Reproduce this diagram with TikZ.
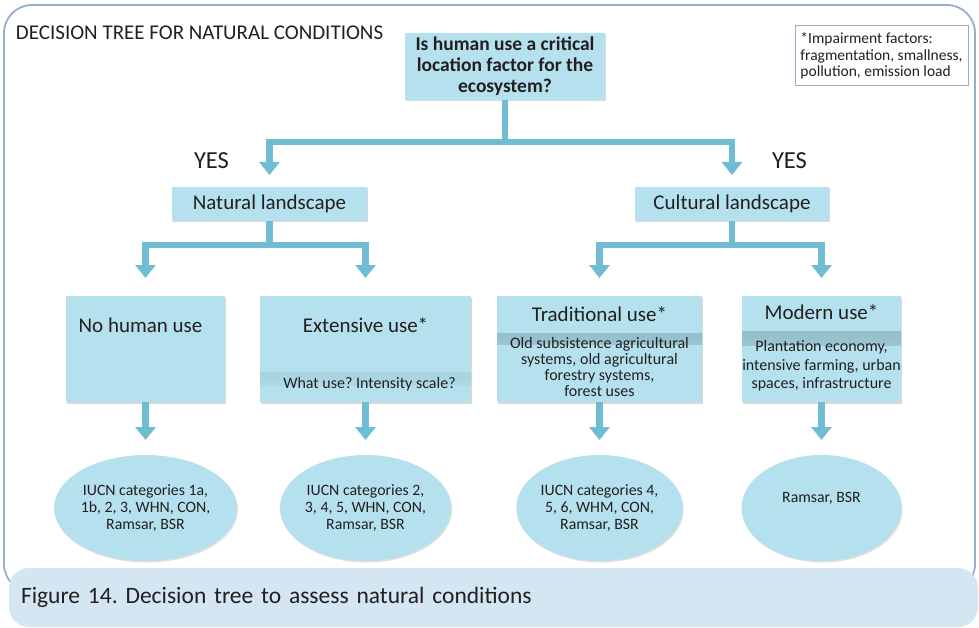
\documentclass[tikz,border=0pt]{standalone}
\usepackage{fontspec}
\setmainfont{Carlito}
\frenchspacing
\usetikzlibrary{positioning, shapes.geometric, arrows.meta, shadows}

\definecolor{boxfill}{RGB}{181,225,238}
\definecolor{pipefill}{RGB}{112,188,210}
\definecolor{bandfill}{RGB}{132,172,184}
\definecolor{framecol}{RGB}{148,174,204}
\definecolor{capfill}{RGB}{211,230,241}
\definecolor{txtcol}{RGB}{35,31,32}

\tikzset{
    band/.style 2 args={path picture={
        \shade[top color=bandfill, bottom color=boxfill]
            ([yshift=-#1]path picture bounding box.north west) rectangle
            ([yshift=-#1-#2]path picture bounding box.north east);}},
}

\begin{document}
\begin{tikzpicture}[
    x=1pt, y=-1pt,
    every node/.style = {text=txtcol, inner sep=0pt, outer sep=0pt},
    box/.style = {rectangle, fill=boxfill,
        drop shadow={opacity=.3, shadow xshift=1pt, shadow yshift=-1.5pt}},
    oval/.style = {ellipse, fill=boxfill, align=center,
        minimum width=160pt, minimum height=106pt,
        font=\fontsize{15.8}{17}\selectfont,
        drop shadow={opacity=.25, shadow xshift=1pt, shadow yshift=-1.5pt}},
    ttl/.style = {font=\fontsize{21}{24}\selectfont},
    sub/.style = {align=center, font=\fontsize{16}{16}\selectfont},
    pipe/.style = {draw=pipefill, line width=6.5pt,
        -{Triangle[width=20pt, length=13pt]}}
]
    \useasboundingbox (0,0) rectangle (979,628);

    % frame and caption
    \draw[framecol, line width=1.8pt, rounded corners=28pt] (4,5) rectangle (975,592);
    \node[fill=capfill, rounded corners=20pt, anchor=north west,
          minimum height=59pt, text width=945pt, inner xsep=12pt,
          font=\fontsize{23.5}{28}\selectfont] (caption) at (9,568)
        {Figure 14. Decision tree to assess natural conditions};

    \node[ttl, anchor=base west] (title) at (16,40) {DECISION TREE FOR NATURAL CONDITIONS};

    \node[draw=framecol, line width=1pt, fill=white, anchor=north west,
          minimum width=173pt, minimum height=60pt, align=left,
          font=\fontsize{15.5}{16.5}\selectfont] (impair) at (795,26)
        {*Impairment factors:\\fragmentation, smallness,\\pollution, emission load};

    % question
    \node[box, minimum width=200pt, minimum height=67pt, align=center,
          font=\fontsize{19.5}{21}\selectfont\bfseries] (root) at (505,66.5)
        {Is human use a critical\\location factor for the\\ecosystem?};

    \node[font=\fontsize{24.5}{28}\selectfont, anchor=base west] (yesL) at (194,169) {YES};
    \node[font=\fontsize{24.5}{28}\selectfont, anchor=base west] (yesR) at (772,169) {YES};

    \node[box, ttl, minimum width=195pt, minimum height=34pt] (natural) at (269.5,204) {Natural landscape};
    \node[box, ttl, minimum width=194pt, minimum height=34pt] (cultural) at (732,204) {Cultural landscape};

    % uses
    \node[box, minimum width=159pt, minimum height=106pt] (none) at (145.5,349) {};
    \node[box, band={76pt}{13pt}, minimum width=211pt, minimum height=106pt] (ext) at (365.5,349) {};
    \node[box, band={37pt}{11pt}, minimum width=205pt, minimum height=106pt] (trad) at (599.5,349) {};
    \node[box, band={35pt}{14pt}, minimum width=159pt, minimum height=106pt] (mod) at (821.5,349) {};

    \node[ttl] (noneT) at ([xshift=-5pt, yshift=-29pt]none.north) {No human use};
    \node[ttl] (extT) at ([yshift=-29pt]ext.north) {Extensive use*};
    \node[sub] (extS) at ([xshift=4pt, yshift=18pt]ext.south) {What use? Intensity scale?};
    \node[ttl] (tradT) at ([yshift=-18pt]trad.north) {Traditional use*};
    \node[sub] (tradS) at ([yshift=-71pt]trad.north)
        {Old subsistence agricultural\\systems, old agricultural\\forestry systems,\\forest uses};
    \node[ttl] (modT) at ([yshift=-16pt]mod.north) {Modern use*};
    \node[sub, font=\fontsize{16}{18.5}\selectfont] (modS) at ([yshift=-70pt]mod.north)
        {Plantation economy,\\intensive farming, urban\\spaces, infrastructure};

    % protected area categories
    \node[oval, below=53pt of none] (e1) {IUCN categories 1a,\\1b, 2, 3, WHN, CON,\\Ramsar, BSR};
    \node[oval, below=53pt of ext] (e2) {IUCN categories 2,\\3, 4, 5, WHN, CON,\\Ramsar, BSR};
    \node[oval, below=53pt of trad] (e3) {IUCN categories 4,\\5, 6, WHM, CON,\\Ramsar, BSR};
    \node[oval, below=53pt of mod] (e4) {Ramsar, BSR\\[4pt]\mbox{}};

    % connectors
    \draw[pipe, shorten >=12pt] (root.south) -- ++(0,42) -| (natural.north);
    \draw[pipe, shorten >=12pt] (root.south) -- ++(0,42) -| (cultural.north);
    \draw[pipe, shorten >=18pt] (natural.south) -- ++(0,24) -| (none.north);
    \draw[pipe, shorten >=18pt] (natural.south) -- ++(0,24) -| (ext.north);
    \draw[pipe, shorten >=18pt] (cultural.south) -- ++(0,24) -| (trad.north);
    \draw[pipe, shorten >=18pt] (cultural.south) -- ++(0,24) -| (mod.north);
    \foreach \a/\b in {none/e1, ext/e2, trad/e3, mod/e4}
        \draw[pipe, shorten >=15pt] (\a) -- (\b);
\end{tikzpicture}
\end{document}
